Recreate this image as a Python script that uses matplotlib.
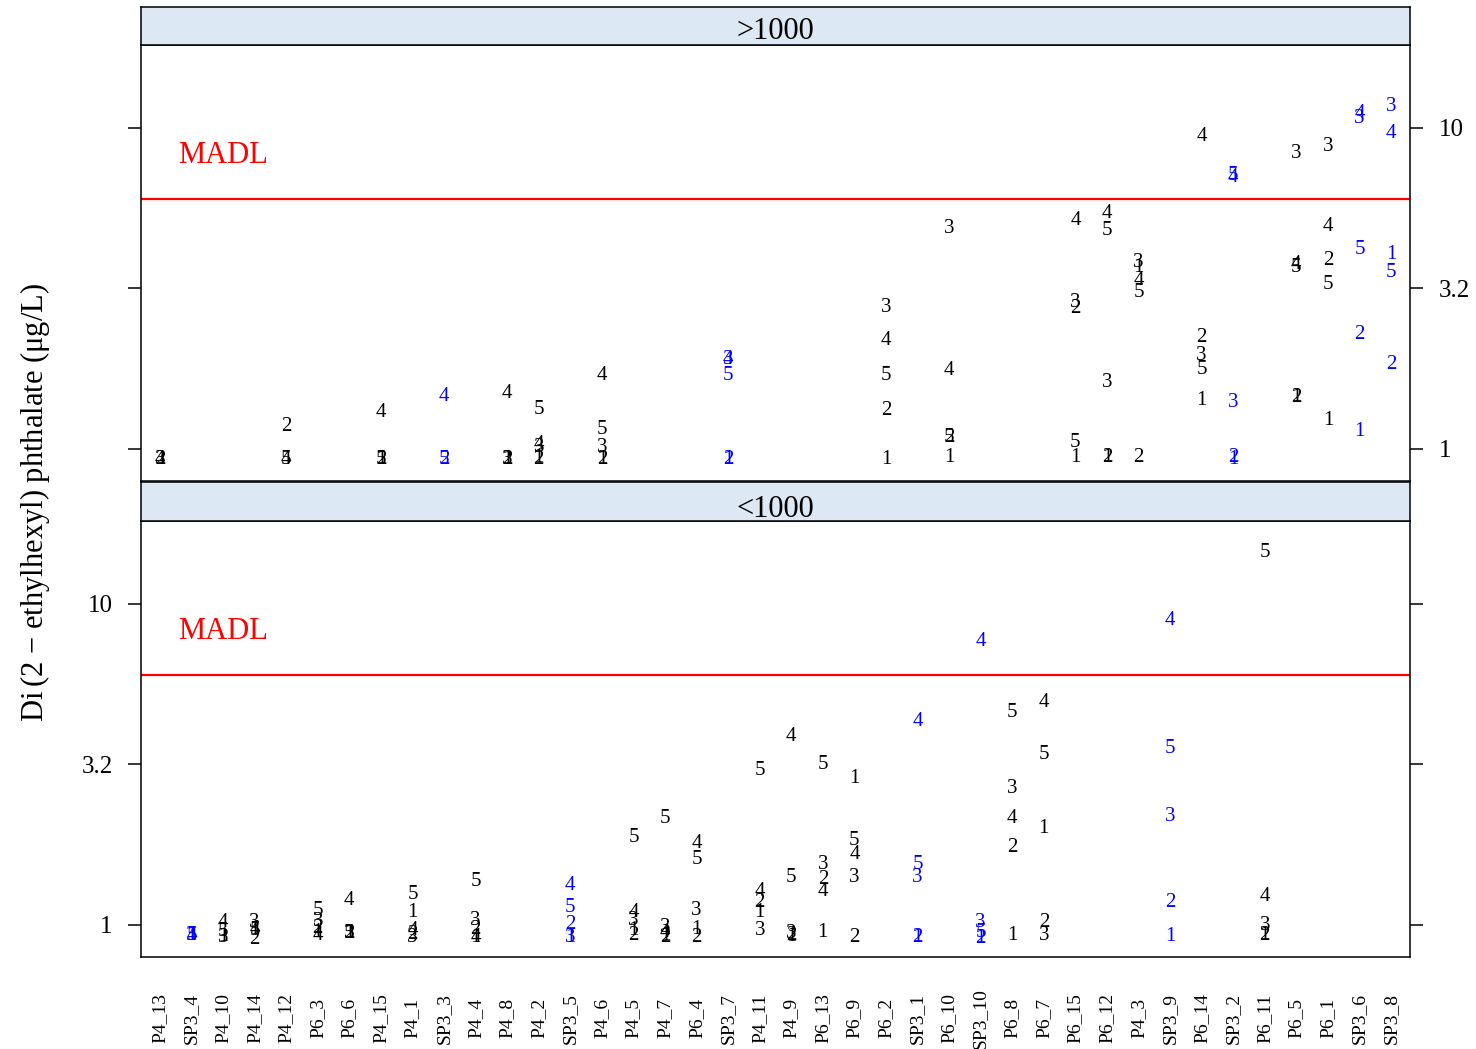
import numpy as np
import matplotlib.pyplot as plt

plt.rcParams['font.family'] = ['Liberation Serif', 'DejaVu Serif']

nan = np.nan

# site order along the x axis (shared by both panels)
sites = ["P4_13", "SP3_4", "P4_10", "P4_14", "P4_12", "P6_3", "P6_6", "P4_15",
         "P4_1", "SP3_3", "P4_4", "P4_8", "P4_2", "SP3_5", "P4_6", "P4_5",
         "P4_7", "P6_4", "SP3_7", "P4_11", "P4_9", "P6_13", "P6_9", "P6_2",
         "SP3_1", "P6_10", "SP3_10", "P6_8", "P6_7", "P6_15", "P6_12", "P4_3",
         "SP3_9", "P6_14", "SP3_2", "P6_11", "P6_5", "P6_1", "SP3_6", "SP3_8"]
samples = ["1", "2", "3", "4", "5"]

# ">1000" panel: values (ug/L) for samples 1..5
hi_sites = ["P4_13", "P4_12", "P4_15", "SP3_3", "P4_8", "P4_2", "P4_6", "SP3_7",
            "P6_2", "P6_10", "P6_15", "P6_12", "P4_3", "P6_14", "SP3_2", "P6_5",
            "P6_1", "SP3_6", "SP3_8"]
hi_values = [
    [nan, 0.944, 0.944, 0.944, nan],     # P4_13
    [nan, 1.20, nan, 0.944, 0.944],      # P4_12
    [0.944, 0.944, nan, 1.32, 0.944],    # P4_15
    [nan, 0.944, nan, 1.48, 0.944],      # SP3_3
    [0.944, 0.944, 0.944, 1.52, nan],    # P4_8
    [0.958, 0.944, 1.03, 1.05, 1.35],    # P4_2
    [0.944, 0.944, 1.03, 1.72, 1.17],    # P4_6
    [0.944, 0.944, 1.93, 1.93, 1.73],    # SP3_7
    [0.944, 1.34, 2.80, 2.21, 1.73],     # P6_2
    [0.958, 1.105, 4.96, 1.79, 1.105],   # P6_10
    [0.958, 2.79, 2.90, 5.22, 1.07],     # P6_15
    [0.958, 0.958, 1.64, 5.52, 4.89],    # P6_12
    [3.75, 0.958, 3.88, 3.40, 3.12],     # P4_3
    [1.44, 2.26, 1.99, 9.58, 1.80],      # P6_14
    [0.944, 0.958, 1.42, 7.15, 7.25],    # SP3_2
    [1.47, 1.47, 8.48, 3.81, 3.73],      # P6_5
    [1.25, 3.92, 8.92, 5.03, 3.30],      # P6_1
    [1.15, 2.31, 10.9, 11.3, 4.24],      # SP3_6
    [4.09, 1.86, 11.9, 9.79, 3.60],      # SP3_8
]

# "<1000" panel
lo_sites = ["SP3_4", "P4_10", "P4_14", "P6_3", "P6_6", "P4_1", "P4_4", "SP3_5",
            "P4_5", "P4_7", "P6_4", "P4_11", "P4_9", "P6_13", "P6_9", "SP3_1",
            "SP3_10", "P6_8", "P6_7", "SP3_9", "P6_11"]
lo_values = [
    [0.944, nan, 0.944, 0.944, 0.944],   # SP3_4
    [0.937, nan, 0.930, 1.037, 0.972],   # P4_10
    [0.986, 0.917, 1.037, 0.986, 0.979], # P4_14
    [0.965, 0.993, 1.044, 0.944, 1.13],  # P6_3
    [0.958, 0.958, 0.958, 1.21, 0.958],  # P6_6
    [1.11, 0.951, 0.931, 0.979, 1.27],   # P4_1
    [0.931, 0.986, 1.05, 0.931, 1.39],   # P4_4
    [0.931, 1.022, 0.931, 1.35, 1.155],  # SP3_5
    [0.979, 0.944, 1.05, 1.11, 1.91],    # P4_5
    [0.944, 0.931, 1.0, 0.965, 2.18],    # P4_7
    [0.986, 0.931, 1.13, 1.82, 1.63],    # P6_4
    [1.11, 1.20, 0.979, 1.29, 3.09],     # P4_11
    [0.937, 0.944, 0.958, 3.92, 1.43],   # P4_9
    [0.965, 1.41, 1.57, 1.29, 3.21],     # P6_13
    [2.90, 0.931, 1.43, 1.69, 1.87],     # P6_9
    [0.931, 0.931, 1.43, 4.37, 1.57],    # SP3_1
    [0.924, 0.924, 1.037, 7.77, 0.965],  # SP3_10
    [0.944, 1.77, 2.70, 2.19, 4.66],     # P6_8
    [2.04, 1.037, 0.944, 5.01, 3.45],    # P6_7
    [0.937, 1.20, 2.22, 9.04, 3.60],     # SP3_9
    [0.944, 0.944, 1.015, 1.25, 14.75],  # P6_11
]

madl = 6.0
y_ticks = [1, 10 ** 0.5, 10]
y_ticklabels = ["1", "3.2", "10"]

W, H = 1476, 1049
fig = plt.figure(figsize=(W / 100, H / 100), dpi=100)


def box(x0, y0, x1, y1):
    """pixel box (top-left origin) -> figure fraction rect"""
    return [x0 / W, 1 - y1 / H, (x1 - x0) / W, (y1 - y0) / H]


panels = [
    (">1000", hi_sites, hi_values, box(141, 45, 1410, 481), box(141, 7, 1410, 45), "right", 0.45),
    ("<1000", lo_sites, lo_values, box(141, 521, 1410, 957), box(141, 482, 1410, 521), "left", 0.38),
]

pos = {s: i + 1 for i, s in enumerate(sites)}

for title, psites, pvals, rect, srect, label_side, title_y in panels:
    ax = fig.add_axes(rect)
    ax.set_yscale("log")
    ax.set_xlim(0.4, len(sites) + 0.6)
    ax.set_ylim(0.795, 18.1)

    for s, vals in zip(psites, pvals):
        col = "blue" if s.startswith("SP3") else "black"
        for lab, v in zip(samples, vals):
            if np.isnan(v):
                continue
            ax.text(pos[s], v, lab, ha="center", va="center_baseline",
                    fontsize=15, color=col)

    ax.axhline(madl, color="red", lw=1.6)
    ax.text(1.57, 8.2, "MADL", color="red", fontsize=22,
            ha="left", va="center")

    ax.set_yticks(y_ticks)
    ax.yaxis.set_minor_locator(plt.NullLocator())
    ax.tick_params(axis="y", which="major", direction="out", length=9.5,
                   width=1.1, labelsize=18, pad=11,
                   left=True, right=True,
                   labelleft=(label_side == "left"),
                   labelright=(label_side == "right"))
    ax.set_yticklabels(y_ticklabels)

    if label_side == "left":
        ax.set_xticks(range(1, len(sites) + 1))
        ax.set_xticklabels(sites, rotation=90, fontsize=14,
                           ha="center", va="center")
        ax.tick_params(axis="x", length=0, pad=44)
    else:
        ax.set_xticks([])

    for sp in ax.spines.values():
        sp.set_linewidth(1.1)
        sp.set_color("black")

    # strip
    sax = fig.add_axes(srect)
    sax.set_facecolor("#dce8f4")
    sax.set_xticks([])
    sax.set_yticks([])
    for sp in sax.spines.values():
        sp.set_linewidth(1.1)
        sp.set_color("black")
    sax.text(0.5, title_y, title, ha="center", va="center_baseline",
             fontsize=22, transform=sax.transAxes)

fig.text(0.024, 0.521, "Di$\\,$(2 \u2212 ethylhexyl) phthalate (\u03bcg/L)",
         rotation=90, ha="center", va="center", fontsize=22)

fig.savefig("out.png", dpi=100)
